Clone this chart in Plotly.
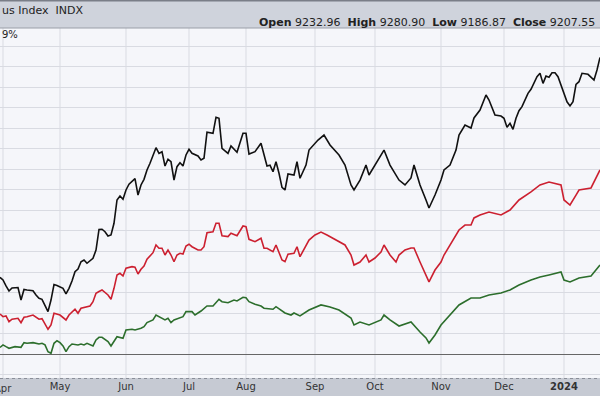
import plotly.graph_objects as go

# trading-day index (0 = first trading day of April 2023)
black_x = [-1,0,1,2,3,5,6,7,8,10,11,12,13,15,16,17,18,20,21,22,23,24,25,26,27,28,30,31,32,33,34,35,36,37,38,39,40,41,42,44,45,46,47,48,49,51,52,53,54,55,56,57,58,59,60,61,62,63,65,66,67,68,70,71,72,73,75,76,78,80,81,82,84,86,88,89,90,91,92,93,94,95,97,98,99,101,102,105,107,109,112,114,116,117,119,121,122,124,126,127,129,131,132,134,136,137,139,141,142,144,146,147,149,151,152,154,156,157,159,161,162,164,166,167,168,169,170,171,172,173,175,176,178,179,180,181,182,183,184,185,187,188,189,190,191,192,193,195,197,198,199]
black_y = [7.49,7.23,6.65,6.16,6.45,6.50,5.28,6.31,6.26,6.19,5.77,5.45,5.35,4.15,5.28,6.79,6.70,6.42,5.87,6.42,7.13,8.04,8.30,9.01,9.18,8.86,9.34,10.15,12.15,12.17,11.93,11.51,11.61,12.75,15.02,15.41,15.09,15.99,16.55,17.09,15.50,16.48,17.03,17.94,18.59,20.11,19.56,19.72,18.33,18.98,18.74,16.96,18.26,18.65,18.33,19.40,19.95,19.56,19.30,18.91,19.08,21.61,21.51,23.07,22.97,20.05,19.56,20.27,19.66,21.51,21.51,19.49,19.72,20.54,18.33,18.40,17.77,18.74,17.62,16.25,15.99,17.55,17.45,18.74,17.13,18.42,19.88,20.85,21.34,20.37,19.40,18.42,16.48,15.99,16.96,18.42,17.45,18.42,19.40,19.88,18.42,17.45,16.96,16.48,17.16,18.42,16.48,15.02,14.24,15.50,16.96,17.94,18.42,19.88,21.34,22.32,22.02,23.00,23.78,25.24,24.75,23.29,23.19,22.97,22.09,22.48,21.90,22.97,23.71,24.10,25.40,25.79,27.02,27.35,26.37,27.08,26.96,27.41,27.41,27.02,25.40,24.58,24.17,24.58,26.28,26.53,27.35,27.25,26.70,27.67,28.90]

red_x = [-1,0,1,2,3,5,6,7,8,10,12,13,15,16,17,19,21,22,24,25,26,27,29,30,31,32,33,35,36,37,38,39,40,41,43,44,45,46,47,48,50,51,52,53,54,55,56,57,58,59,60,61,62,63,65,66,67,68,70,71,72,73,75,76,78,80,81,82,84,86,87,88,90,91,92,93,94,95,97,98,99,102,104,106,108,111,114,116,117,119,121,122,124,126,127,129,131,132,134,136,137,139,141,142,144,146,147,149,151,152,154,156,157,159,162,166,169,172,176,179,182,186,187,189,191,192,196,199]
red_y = [3.92,3.66,3.73,3.17,3.41,3.50,3.08,3.60,3.66,3.82,3.41,3.46,2.43,2.85,3.99,3.82,3.34,3.82,4.38,3.99,4.48,4.57,4.70,5.12,5.94,6.11,6.26,5.77,5.35,6.42,7.72,7.88,7.62,8.37,8.53,8.47,7.81,8.27,8.59,9.25,9.89,10.64,10.32,10.32,9.66,10.15,9.66,9.01,9.66,9.83,9.76,10.54,10.71,10.47,10.15,10.15,10.47,11.83,11.93,12.75,12.75,11.54,11.45,11.78,11.54,12.49,12.42,11.19,10.96,11.29,10.32,10.32,9.99,10.64,9.83,9.18,9.01,9.73,9.83,10.47,9.50,11.12,11.61,11.90,11.61,11.12,10.64,9.66,8.69,8.98,9.66,8.98,9.37,9.96,10.64,9.66,8.98,9.66,10.15,10.35,10.35,8.98,7.72,7.04,8.20,8.98,9.66,10.64,11.61,12.10,12.58,12.58,13.27,13.56,13.85,13.56,14.04,15.02,15.80,16.48,16.77,16.48,15.02,14.53,15.50,15.99,16.19,17.94]

green_x = [-1,0,1,2,4,6,7,8,10,12,13,14,15,16,17,18,19,20,21,22,23,25,26,27,28,30,31,32,33,35,36,37,38,40,41,43,44,46,47,48,50,51,52,54,55,56,57,59,60,61,63,64,66,68,70,72,73,75,77,78,80,81,82,84,86,87,90,91,94,96,97,99,102,106,109,112,116,117,119,122,126,127,129,132,136,139,141,142,144,146,149,152,156,159,162,166,169,172,176,179,182,186,187,189,192,196,199]
green_y = [0.66,0.91,0.74,0.58,0.74,0.68,1.13,1.07,1.13,1.00,1.07,0.91,0.25,0.10,1.07,1.32,1.13,0.81,0.25,0.74,1.00,0.91,1.00,0.91,1.07,0.81,1.39,1.65,1.65,1.23,0.81,1.32,1.71,1.56,2.36,2.43,2.36,2.53,2.69,3.08,3.34,3.82,3.66,3.34,3.50,3.08,3.34,3.60,3.66,4.15,4.15,3.82,4.21,4.70,4.70,5.35,5.12,5.02,5.28,5.19,5.55,5.51,5.12,4.87,4.70,4.48,4.38,4.63,4.02,3.82,4.02,3.73,4.31,4.80,4.60,4.31,3.53,2.85,3.14,2.85,3.34,3.82,3.34,2.75,3.14,2.17,1.59,1.10,1.88,2.85,3.82,4.80,5.48,5.48,5.77,5.97,6.26,6.74,7.23,7.52,7.72,8.01,7.23,7.04,7.43,7.62,8.69]

month_idx = [0, 19, 41, 62, 81, 104, 124, 146, 167, 187]
month_lbl = ["Apr", "May", "Jun", "Jul", "Aug", "Sep", "Oct", "Nov", "Dec", "<b>2024</b>"]

W, H = 600, 396
def py(px):
    return 1 - px / H

fig = go.Figure()
for xs, ys, col in [(green_x, green_y, "#2c6e2c"), (red_x, red_y, "#cc2030"), (black_x, black_y, "#111111")]:
    fig.add_trace(go.Scatter(x=xs, y=ys, mode="lines",
                             line=dict(color=col, width=1.6), hoverinfo="skip"))

fig.update_layout(
    width=W, height=H, margin=dict(l=0, r=0, t=0, b=0),
    paper_bgcolor="#c6cad3", plot_bgcolor="#f5f6fa",
    showlegend=False,
    font=dict(family="DejaVu Sans", size=10, color="#222"),
    xaxis=dict(domain=[0, 1], range=[-1, 199], tickvals=month_idx[1:], ticktext=month_lbl[1:],
               showgrid=False, zeroline=False,
               showline=False, ticks="", tickfont=dict(size=10, color="#333"),
               ticklabelstandoff=1, automargin=False),
    yaxis=dict(domain=[py(378), py(28)], range=[-2.31, 31.76], dtick=2, tick0=0,
               showgrid=True, gridcolor="#d9dbe2", gridwidth=1,
               zeroline=True, zerolinecolor="#666", zerolinewidth=1,
               showticklabels=False, ticks="", automargin=False),
)

shapes = [
    dict(type="rect", xref="paper", yref="paper", x0=0, x1=1, y0=py(28), y1=1,
         fillcolor="#cfd3dc", line=dict(width=0), layer="below"),
    dict(type="line", xref="paper", yref="paper", x0=0, x1=1, y0=py(0.5), y1=py(0.5),
         line=dict(color="#7a7e88", width=2)),
    dict(type="line", xref="paper", yref="paper", x0=0, x1=1, y0=py(28), y1=py(28),
         line=dict(color="#9a9ea8", width=1)),
    dict(type="line", xref="paper", yref="paper", x0=0, x1=1, y0=py(378.5), y1=py(378.5),
         line=dict(color="#8a8e98", width=1, dash="dot")),
]
# vertical month gridlines inside the plot area only
for m in month_idx:
    shapes.append(dict(type="line", xref="x", yref="paper", x0=m, x1=m, y0=py(378), y1=py(28),
                       line=dict(color="#d9dbe2", width=1), layer="below"))
fig.update_layout(shapes=shapes)

# first month label sits at the clipped left edge
fig.add_annotation(xref="x", yref="paper", x=month_idx[0], y=py(388), xanchor="center",
                   yanchor="middle", text=month_lbl[0], showarrow=False,
                   font=dict(size=10, color="#333"))
fig.add_annotation(xref="paper", yref="paper", x=0, y=py(10), xanchor="left", yanchor="middle",
                   text="us Index  INDX", showarrow=False, font=dict(size=11, color="#222"))
fig.add_annotation(xref="paper", yref="paper", x=597 / W, y=py(22), xanchor="right",
                   yanchor="middle", showarrow=False, font=dict(size=11, color="#222"),
                   text="<b>Open</b> 9232.96  <b>High</b> 9280.90  <b>Low</b> 9186.87  <b>Close</b> 9207.55")
fig.add_annotation(xref="paper", yref="paper", x=0, y=py(35), xanchor="left", yanchor="middle",
                   text="9%", showarrow=False, font=dict(size=10, color="#222"))

fig.write_html("out.html", config={"displayModeBar": False},
               post_script="document.body.style.margin='0';document.body.style.overflow='hidden';")
